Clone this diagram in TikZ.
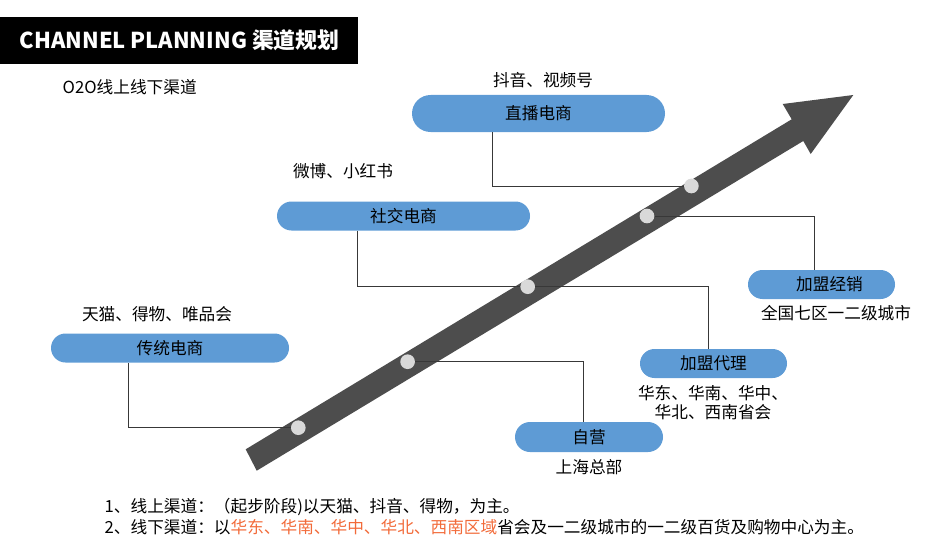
\documentclass[tikz,border=0pt]{standalone}
\usepackage{fontspec}
\setmainfont{Noto Sans CJK SC}
\usetikzlibrary{shapes.misc}
\definecolor{planblue}{HTML}{5E9BD5}
\definecolor{bandgray}{HTML}{4D4D4D}
\definecolor{dotgray}{HTML}{D9D9D9}
\definecolor{linegray}{HTML}{383838}
\definecolor{planorange}{HTML}{F26B3A}
\begin{document}
\begin{tikzpicture}[x=0.75pt,y=-0.75pt,
    every node/.style={font=\fontsize{12.5pt}{15pt}\selectfont},
    chanbox/.style={rounded rectangle,fill=planblue,inner sep=0pt,minimum height=21.75pt},
    stagedot/.style={circle,fill=dotgray,inner sep=0pt,minimum size=11pt},
    link/.style={draw=linegray,line width=0.75pt}]
            \useasboundingbox (0,0) rectangle (950,560);

            \fill (0,17) rectangle (358,64);
            \node[anchor=west,text=white,font=\bfseries\fontsize{16.4pt}{18pt}\selectfont] (title) at (15,40.5) {CHANNEL PLANNING 渠道规划};
            \node[anchor=west] (o2o) at (58,87) {O2O线上线下渠道};

            \fill[bandgray] (245.7,449.3) -- (791.7,119.3) -- (782.7,104) -- (853.3,95)
                -- (810.7,154) -- (803.3,141) -- (256.7,470.7) -- cycle;

            \node[chanbox,minimum width=178.5pt] (tong) at (170,348) {传统电商};
            \node[chanbox,minimum width=189.75pt] (shejiao) at (403.5,216) {社交电商};
            \node[chanbox,minimum width=189.75pt,minimum height=27.75pt] (zhibo) at (538.5,113.5) {直播电商};
            \node[chanbox,minimum width=110.25pt] (jingxiao) at (821.5,284.5) {\hspace*{12pt}加盟经销};
            \node[chanbox,minimum width=110.25pt] (daili) at (713.5,363.5) {加盟代理};
            \node[chanbox,minimum width=111pt,minimum height=22.5pt] (ziying) at (589,437) {自营};

            \node (zhibotxt) at (543,80) {抖音、视频号};
            \node (shejiaotxt) at (343,171) {微博、小红书};
            \node (tongtxt) at (157,314) {天猫、得物、唯品会};
            \node (jingxiaotxt) at (836,313) {全国七区一二级城市};
            \node[align=center,font=\fontsize{12.5pt}{14.25pt}\selectfont] (dailitxt) at (713,402.5) {华东、华南、华中、\\华北、西南省会};
            \node (ziyingtxt) at (589,467) {上海总部};

            \node[stagedot] (c1) at (298.3,427.7) {};
            \node[stagedot] (c2) at (407.6,361.7) {};
            \node[stagedot] (c3) at (527.7,286.7) {};
            \node[stagedot] (c4) at (647,216) {};
            \node[stagedot] (c5) at (691.4,186) {};

            \draw[link] (tong.south) ++(-42,0) |- (c1);
            \draw[link] (c2) -| ([xshift=-4.5pt]ziying.north);
            \draw[link] (shejiao.south) ++(-46.5,0) |- (c3);
            \draw[link] (c3) -| ([xshift=-4pt]daili.north);
            \draw[link] (zhibo.south) ++(-46.5,0) |- (c5);
            \draw[link] (c4) -| ([xshift=-5pt]jingxiao.north);

            \node[anchor=west] (note1) at (100,506.7) {1、线上渠道：（起步阶段)以天猫、抖音、得物，为主。};
            \node[anchor=west] (note2) at (100,526.7) {2、线下渠道：以\textcolor{planorange}{华东、华南、华中、华北、西南区域}省会及一二级城市的一二级百货及购物中心为主。};
        \end{tikzpicture}
\end{document}
